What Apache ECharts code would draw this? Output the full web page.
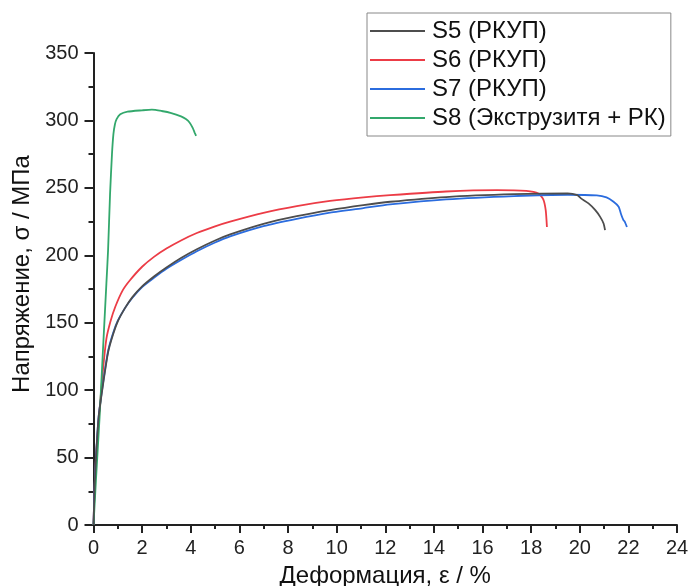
<!DOCTYPE html>
<html>
<head>
<meta charset="utf-8">
<script src="https://cdn.jsdelivr.net/npm/echarts@6/dist/echarts.min.js"></script>
<style>
html,body{margin:0;padding:0;background:#fff;overflow:hidden;}
#chart{width:689px;height:586px;}
</style>
</head>
<body>
<div id="chart"></div>
<script>
// Series names
var seriesNames = ['S5 (РКУП)', 'S6 (РКУП)', 'S7 (РКУП)', 'S8 (Экструзитя + РК)'];
// Strain (%), stress (MPa) pairs
var s5 = [[0,0],[0.05,30],[0.12,55],[0.21,80],[0.39,104],[0.6,128],[0.8,141],[1.0,151],[1.3,161],[1.6,169],[2.0,177],[2.5,184.5],[3.0,191],[3.6,198],[4.25,204.5],[5.0,211],[5.62,215.5],[6.99,223.3],[8.36,229],[9.73,233.5],[11.1,237.2],[12.2,239.7],[14.5,243.2],[17.3,245.3],[19.5,245.9],[19.9,244.6],[20.05,242.2],[20.36,238.5],[20.64,233.5],[20.84,228.5],[20.98,223.6],[21.04,218.7]];
var s6 = [[0,0],[0.05,30],[0.12,56],[0.25,85],[0.39,115],[0.53,138],[0.7,151],[0.9,162],[1.2,174],[1.5,181.5],[2.0,191.5],[2.5,199],[3.0,205],[3.6,211],[4.25,216.5],[5.0,221.5],[5.62,225],[6.99,231.5],[8.36,236.5],[9.73,240.3],[11.1,243],[12.2,244.6],[14.5,247.3],[16.6,248.3],[17.8,247.7],[18.3,245.8],[18.5,241.5],[18.6,233.5],[18.65,221]];
var s7 = [[0,0],[0.05,31],[0.12,56],[0.21,80],[0.39,105],[0.6,129],[0.8,142],[1.0,151.5],[1.3,161],[1.6,168.5],[2.0,176.5],[2.5,183.5],[3.0,190],[3.6,196.5],[4.25,203],[5.0,209.5],[5.62,214],[6.99,221.6],[8.36,227],[9.73,231.6],[11.1,235],[12.2,237.7],[14.5,241.4],[17.3,243.9],[19.5,244.9],[20.7,244.4],[21.1,242.9],[21.39,239.7],[21.6,236],[21.69,231],[21.75,228],[21.8,226],[21.85,225],[21.94,221]];
var s8 = [[0,0],[0.1,33],[0.25,80],[0.39,130],[0.53,179],[0.6,204],[0.68,245],[0.76,275],[0.82,290],[0.88,297],[0.95,301],[1.1,304.5],[1.4,306.5],[2.0,307.5],[2.4,308],[2.8,307],[3.2,305.5],[3.6,303],[3.8,301],[3.95,298.5],[4.08,294.5],[4.16,291],[4.22,288.5]];
var seriesData = [s5, s6, s7, s8];
var colors = ['#4d4d4d', '#ec3c46', '#2b6cde', '#33a86c'];
// Axis settings
var xMin = 0, xMax = 24, xStep = 2;
var yMin = 0, yMax = 350, yStep = 50;
var xTitle = 'Деформация, ε / %';
var yTitle = 'Напряжение, σ / МПа';

var font = 'Liberation Sans, Arial, sans-serif';
var chart = echarts.init(document.getElementById('chart'), null, {renderer: 'canvas'});
var series = seriesData.map(function (d, i) {
  return {
    name: seriesNames[i],
    type: 'line',
    data: d,
    showSymbol: false,
    symbol: 'none',
    smooth: 0.2,
    lineStyle: {color: colors[i], width: 1.8},
    itemStyle: {color: colors[i]},
    z: i === 0 ? 3 : 2
  };
});
chart.setOption({
  animation: false,
  backgroundColor: '#ffffff',
  grid: {left: 93.5, right: 12, top: 53, bottom: 61, containLabel: false, outerBoundsMode: 'none'},
  legend: {
    data: seriesNames,
    orient: 'vertical',
    left: 367, top: 13,
    padding: [6, 5, 6, 3],
    itemWidth: 55, itemHeight: 2,
    itemGap: 5,
    borderColor: '#888888', borderWidth: 1,
    icon: 'rect',
    textStyle: {fontFamily: font, fontSize: 24, lineHeight: 24, color: '#111', padding: [0,0,0,2]}
  },
  xAxis: {
    type: 'value', min: xMin, max: xMax, interval: xStep,
    name: xTitle, nameLocation: 'middle', nameGap: 39,
    nameTextStyle: {fontFamily: font, fontSize: 24, color: '#111'},
    axisLine: {show: true, onZero: false, lineStyle: {color: '#222', width: 2}},
    axisTick: {show: true, inside: false, length: 8, lineStyle: {color: '#222', width: 2}},
    minorTick: {show: true, splitNumber: 2, length: 4, lineStyle: {color: '#222', width: 2}},
    axisLabel: {fontFamily: font, fontSize: 20, color: '#222', margin: 13},
    splitLine: {show: false}
  },
  yAxis: {
    type: 'value', min: yMin, max: yMax, interval: yStep,
    name: yTitle, nameLocation: 'middle', nameGap: 58, nameRotate: 90,
    nameTextStyle: {fontFamily: font, fontSize: 24, color: '#111', padding: [0, 0, 0, 30]},
    axisLine: {show: true, onZero: false, lineStyle: {color: '#222', width: 2}},
    axisTick: {show: true, inside: false, length: 9, lineStyle: {color: '#222', width: 2}},
    minorTick: {show: true, splitNumber: 2, length: 5, lineStyle: {color: '#222', width: 2}},
    axisLabel: {fontFamily: font, fontSize: 20, color: '#222', margin: 15},
    splitLine: {show: false}
  },
  series: series
});
</script>
</body>
</html>
